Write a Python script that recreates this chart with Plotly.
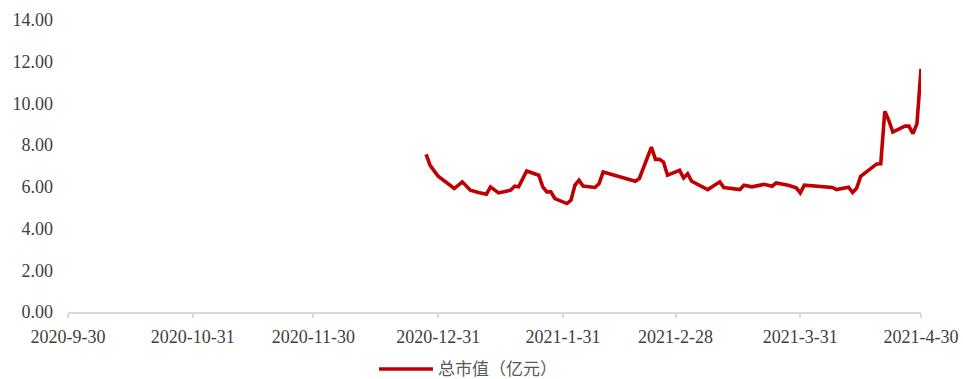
import plotly.graph_objects as go

# Total market value series (100 million CNY)
dates = [
    "2020-12-28", "2020-12-29", "2020-12-31", "2021-01-02", "2021-01-04",
    "2021-01-06", "2021-01-08", "2021-01-10", "2021-01-12", "2021-01-13",
    "2021-01-15", "2021-01-18", "2021-01-19", "2021-01-20", "2021-01-22",
    "2021-01-25", "2021-01-26", "2021-01-27", "2021-01-28", "2021-01-29",
    "2021-02-01", "2021-02-02", "2021-02-03", "2021-02-04", "2021-02-05",
    "2021-02-08", "2021-02-09", "2021-02-10", "2021-02-18", "2021-02-19",
    "2021-02-22", "2021-02-23", "2021-02-24", "2021-02-25", "2021-02-26",
    "2021-03-01", "2021-03-02", "2021-03-03", "2021-03-04", "2021-03-08",
    "2021-03-10", "2021-03-11", "2021-03-12", "2021-03-16", "2021-03-17",
    "2021-03-19", "2021-03-22", "2021-03-24", "2021-03-25", "2021-03-28",
    "2021-03-30", "2021-03-31", "2021-04-01", "2021-04-08", "2021-04-09",
    "2021-04-12", "2021-04-13", "2021-04-14", "2021-04-15", "2021-04-16",
    "2021-04-19", "2021-04-20", "2021-04-21", "2021-04-22", "2021-04-23",
    "2021-04-26", "2021-04-27", "2021-04-28", "2021-04-29", "2021-04-30",
]
market_value = [
    7.56, 7.03, 6.51, 6.19, 5.92,
    6.24, 5.84, 5.73, 5.65, 6.00,
    5.71, 5.84, 6.03, 6.00, 6.76,
    6.56, 6.00, 5.76, 5.76, 5.44,
    5.20, 5.36, 6.08, 6.32, 6.04,
    5.97, 6.16, 6.71, 6.27, 6.40,
    7.91, 7.32, 7.32, 7.19, 6.56,
    6.79, 6.43, 6.63, 6.27, 5.87,
    6.12, 6.24, 5.97, 5.87, 6.08,
    6.00, 6.12, 6.03, 6.19, 6.08,
    5.95, 5.71, 6.08, 5.97, 5.87,
    5.98, 5.73, 5.93, 6.50, 6.64,
    7.10, 7.11, 9.62, 9.19, 8.63,
    8.91, 8.91, 8.55, 9.03, 11.66,
]
series_name = "总市值（亿元）"

x_tick_vals = ["2020-09-30", "2020-10-31", "2020-11-30", "2020-12-31",
               "2021-01-31", "2021-02-28", "2021-03-31", "2021-04-30"]
x_tick_text = ["2020-9-30", "2020-10-31", "2020-11-30", "2020-12-31",
               "2021-1-31", "2021-2-28", "2021-3-31", "2021-4-30"]
y_tick_vals = [0, 2, 4, 6, 8, 10, 12, 14]

W, H = 963, 379
ML, MR, MT, MB = 68, 42, 20, 67
PW, PH = W - ML - MR, H - MT - MB

RED = "#C00000"
TEXT = "#404040"
AXIS = "#D9D9D9"

fig = go.Figure()
fig.add_trace(go.Scatter(
    x=dates, y=market_value, name=series_name, mode="lines",
    line=dict(color=RED, width=3.6), showlegend=False,
))


def px_x(p):
    return (p - ML) / PW


def px_y(p):
    return (H - MB - p) / PH


# Legend drawn as a long line sample with its label underneath the axis
fig.add_shape(type="line", xref="paper", yref="paper",
              x0=px_x(379), x1=px_x(433), y0=px_y(369), y1=px_y(369),
              line=dict(color=RED, width=3.6))
fig.add_annotation(xref="paper", yref="paper", x=px_x(437), y=px_y(367),
                   xanchor="left", yanchor="middle", showarrow=False,
                   borderpad=0, text=series_name,
                   font=dict(family="Noto Sans CJK SC", size=17, color="#595959"))

fig.update_layout(
    width=W, height=H,
    margin=dict(l=ML, r=MR, t=MT, b=MB, pad=0, autoexpand=False),
    paper_bgcolor="white", plot_bgcolor="white",
    font=dict(family="Liberation Serif", size=18, color=TEXT),
    xaxis=dict(
        type="date", range=["2020-09-30", "2021-04-30"],
        tickmode="array", tickvals=x_tick_vals, ticktext=x_tick_text,
        showgrid=False, zeroline=False, automargin=False,
        showline=True, linecolor=AXIS, linewidth=1.5,
        ticks="outside", ticklen=4, tickcolor=AXIS, tickwidth=1.5,
        ticklabelstandoff=4,
    ),
    yaxis=dict(
        range=[0, 14], tickmode="array", tickvals=y_tick_vals,
        tickformat=".2f", showgrid=False, zeroline=False, showline=False,
        automargin=False, ticklabelstandoff=14,
    ),
)

fig.write_html("out.html")
